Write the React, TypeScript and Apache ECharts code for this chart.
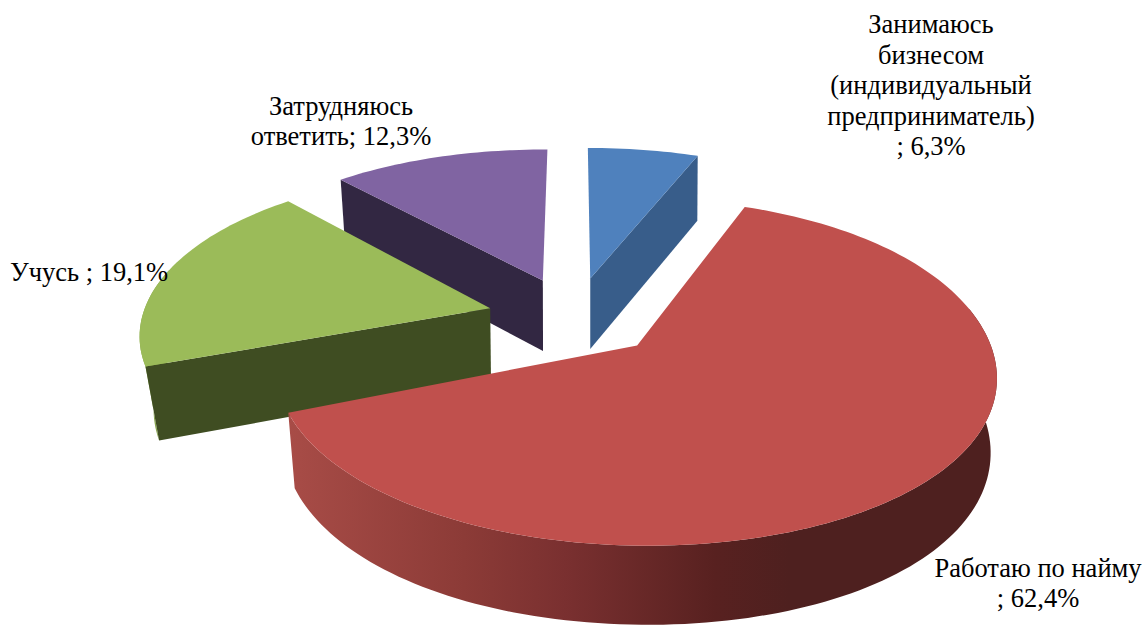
import React, { useEffect, useRef } from "react";
import * as echarts from "echarts";

const categories = ["Занимаюсь\nбизнесом\n(индивидуальный\nпредприниматель)\n", "Работаю по найму\n", "Учусь ", "Затрудняюсь\nответить"];
const separators = ["; ", "; ", "; ", "; "];
const values = [6.3, 62.4, 19.1, 12.3];
const valueLabels = ["6,3%", "62,4%", "19,1%", "12,3%"];

const topColors = ["#4f81bd", "#c0504d", "#9bbb59", "#8064a2"];
const cutColors = ["#385d8a", "#4e201f", "#3f4d22", "#322742"];
const outerColors = ["#385d8a", "#4e201f", "#8aa84f", "#322742"];
const sliceZ = [2, 4, 3, 1];
const labelCentres = [[931, 85], [1038, 583], [89, 272], [341, 121]];

// projection of the pie's plane on the page
const P = { x0: 574, y0: 316.5, a: 345, b: 160.6, kx: 0.18, ky: 0.15, sag: 5.5, squeeze: 3, explode: 0.25, d0: 72, d1: 6, vx: 600, mLeft: 0.000066, mRight: 0.00004 };
const total = values.reduce((s, v) => s + v, 0);

function top(p: number, q: number) {
  const squeeze = p > 0 ? P.squeeze * p * p * p * p : 0;
  return [P.x0 + (P.a * p) / (1 + P.kx * q) - squeeze, P.y0 - (P.b * q) / (1 + P.ky * q) - P.sag * p * p];
}
function bottom(p: number, q: number) {
  const t = top(p, q);
  const dx = t[0] - P.vx;
  return [t[0] + (dx < 0 ? dx * dx * P.mLeft : -dx * dx * P.mRight), t[1] + P.d0 - P.d1 * q];
}

function sliceChildren(index: number, value: number) {
  let before = 0;
  for (let i = 0; i < index; i++) before += values[i];
  const a0 = (before / total) * Math.PI * 2;
  const a1 = ((before + value) / total) * Math.PI * 2;
  const mid = (a0 + a1) / 2;
  const ox = Math.sin(mid) * P.explode;
  const oy = Math.cos(mid) * P.explode;
  const steps = Math.max(8, Math.ceil((a1 - a0) * 40));
  const rim: number[][] = [];
  const frontRim: number[][] = [];
  for (let i = 0; i <= steps; i++) {
    const a = a0 + ((a1 - a0) * i) / steps;
    const point = [ox + Math.sin(a), oy + Math.cos(a)];
    rim.push(point);
    if (Math.cos(a) < 0.2) frontRim.push(point);
  }
  const rimTop = rim.map((r) => top(r[0], r[1]));
  const rimBottom = rim.map((r) => bottom(r[0], r[1]));
  const frontTop = frontRim.map((r) => top(r[0], r[1]));
  const frontBottom = frontRim.map((r) => bottom(r[0], r[1]));
  const apexTop = top(ox, oy);
  const apexBottom = bottom(ox, oy);
  const z = sliceZ[index] * 10;
  const outerFill =
    index === 1
      ? new echarts.graphic.LinearGradient(288, 0, 790, 0, [
          { offset: 0, color: "#a84c47" },
          { offset: 0.35, color: "#8c3b37" },
          { offset: 0.55, color: "#7a3030" },
          { offset: 0.85, color: "#582120" },
          { offset: 1, color: "#4e201f" },
        ], true)
      : outerColors[index];
  const poly = (points: number[][], fill: any, z2: number) => ({
    type: "polygon",
    shape: { points },
    style: { fill },
    z2,
  });
  const children: any[] = [];
  if (frontTop.length > 1) children.push(poly([...frontTop, ...frontBottom.slice().reverse()], outerFill, z));
  if (Math.sin(a0) < -1e-6) children.push(poly([apexTop, rimTop[0], rimBottom[0], apexBottom], cutColors[index], z + 1));
  if (Math.sin(a1) > 1e-6) children.push(poly([apexTop, rimTop[steps], rimBottom[steps], apexBottom], cutColors[index], z + 2));
  children.push(poly([apexTop, ...rimTop], topColors[index], z + 3));
  children.push({
    type: "text",
    z2: 100,
    style: {
      text: categories[index] + separators[index] + valueLabels[index],
      x: labelCentres[index][0],
      y: labelCentres[index][1],
      align: "center",
      verticalAlign: "middle",
      fontFamily: "Liberation Serif",
      fontSize: 26.5,
      lineHeight: 30.5,
      fill: "#000000",
    },
  });
  return children;
}

export default function App() {
  const ref = useRef<HTMLDivElement>(null);
  useEffect(() => {
    const chart = echarts.init(ref.current!, null, { renderer: "svg" });
    chart.setOption({
      animation: false,
      backgroundColor: "#ffffff",
      series: [
        {
          type: "custom",
          coordinateSystem: "none",
          silent: true,
          clip: false,
          data: values.map((v, i) => [i, v]),
          renderItem: (_: any, api: any) => ({
            type: "group",
            children: sliceChildren(api.value(0), api.value(1)),
          }),
        },
      ],
    });
    return () => chart.dispose();
  }, []);
  return <div ref={ref} style={{ position: "absolute", left: 0, top: 0, width: 1144, height: 625 }} />;
}
